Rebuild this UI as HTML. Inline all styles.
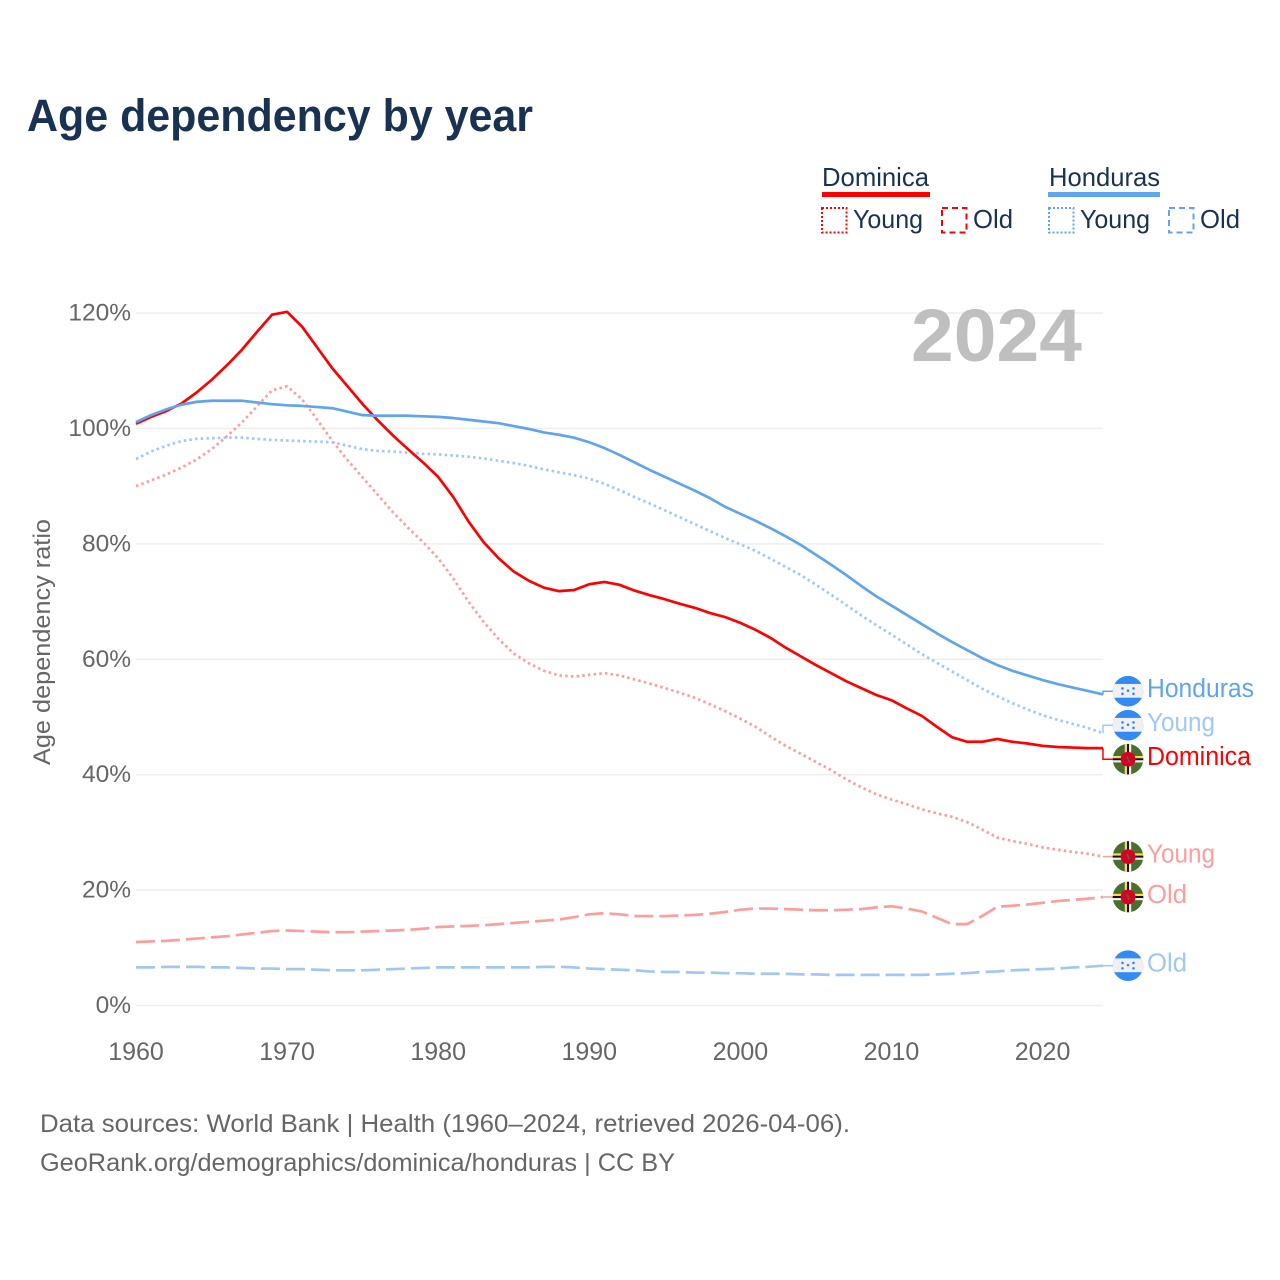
<!DOCTYPE html>
<html lang="en">
<head>
<meta charset="utf-8">
<title>Age dependency by year</title>
<style>
html,body{margin:0;padding:0;background:#fff;width:1280px;height:1280px;overflow:hidden}
svg{display:block}
text{font-family:"Liberation Sans",sans-serif}
</style>
</head>
<body>
<svg id="chart" xmlns="http://www.w3.org/2000/svg" width="1280" height="1280" viewBox="0 0 1280 1280">
  <defs>
    <clipPath id="flag-clip"><circle cx="0" cy="0" r="15.3"/></clipPath>
    <g id="flag-hn" clip-path="url(#flag-clip)">
      <rect x="-16" y="-16" width="32" height="32" fill="#338af3"/>
      <rect x="-16" y="-7.3" width="32" height="13.8" fill="#f0f0f0"/>
      <g fill="#338af3">
        <circle cx="-5.5" cy="-2.8" r="1.3"/><circle cx="5.5" cy="-2.8" r="1.3"/>
        <circle cx="0" cy="-0.5" r="1.3"/>
        <circle cx="-5.5" cy="2.6" r="1.3"/><circle cx="5.5" cy="2.6" r="1.3"/>
      </g>
    </g>
    <g id="flag-dm" clip-path="url(#flag-clip)">
      <rect x="-16" y="-16" width="32" height="32" fill="#496e2d"/>
      <rect x="-3.2" y="-16" width="6.4" height="32" fill="#f0f0f0"/>
      <rect x="-16" y="-3.2" width="32" height="6.4" fill="#f0f0f0"/>
      <rect x="-3" y="-16" width="2" height="32" fill="#ffda44"/>
      <rect x="-16" y="-3" width="32" height="2" fill="#ffda44"/>
      <rect x="-1" y="-16" width="2" height="32" fill="#111"/>
      <rect x="-16" y="-1" width="32" height="2" fill="#111"/>
      <circle r="7.4" fill="#d80027"/>
      <rect x="-0.8" y="-3" width="1.8" height="6" fill="#496e2d" transform="rotate(-20)"/>
    </g>
  </defs>

  <g id="grid"></g>

  <text x="911" y="361" font-size="74" font-weight="700" fill="#bfbfbf" textLength="171" lengthAdjust="spacingAndGlyphs">2024</text>

  <g id="y-ticks"></g>
  <g id="x-ticks"></g>
  <g id="series"></g>
  <g id="labels"></g>

  <text x="27" y="131" font-size="45" font-weight="700" fill="#1a3252" textLength="506" lengthAdjust="spacingAndGlyphs">Age dependency by year</text>

  <text transform="translate(50,765) rotate(-90)" font-size="24" fill="#666666" textLength="246" lengthAdjust="spacingAndGlyphs">Age dependency ratio</text>

  <g>
    <g>
      <text x="822" y="186" font-size="26" fill="#1a3252" textLength="107" lengthAdjust="spacingAndGlyphs">Dominica</text>
      <rect x="822" y="192" width="108" height="5" fill="#ff0000"/>
      <rect x="822" y="208" width="24.500" height="24.500" fill="none" stroke="#ff0000" stroke-width="2" stroke-dasharray="2 2"/>
      <text x="853" y="228" font-size="26" fill="#1a3252" textLength="70" lengthAdjust="spacingAndGlyphs">Young</text>
      <rect x="942" y="208" width="24.500" height="24.500" fill="none" stroke="#ff0000" stroke-width="2" stroke-dasharray="6 4"/>
      <text x="973" y="228" font-size="26" fill="#1a3252" textLength="40" lengthAdjust="spacingAndGlyphs">Old</text>
    </g>
    <g>
      <text x="1049" y="186" font-size="26" fill="#1a3252" textLength="111" lengthAdjust="spacingAndGlyphs">Honduras</text>
      <rect x="1048" y="192" width="112" height="5" fill="#5fa5ee"/>
      <rect x="1049" y="208" width="24.500" height="24.500" fill="none" stroke="#5fa5ee" stroke-width="2" stroke-dasharray="2 2"/>
      <text x="1080" y="228" font-size="26" fill="#1a3252" textLength="70" lengthAdjust="spacingAndGlyphs">Young</text>
      <rect x="1169" y="208" width="24.500" height="24.500" fill="none" stroke="#5fa5ee" stroke-width="2" stroke-dasharray="6 4"/>
      <text x="1200" y="228" font-size="26" fill="#1a3252" textLength="40" lengthAdjust="spacingAndGlyphs">Old</text>
    </g>
  </g>

  <text x="40" y="1132" font-size="25" fill="#666666" textLength="810" lengthAdjust="spacingAndGlyphs">Data sources: World Bank | Health (1960–2024, retrieved 2026-04-06).</text>
  <text x="40" y="1171" font-size="25" fill="#666666" textLength="635" lengthAdjust="spacingAndGlyphs">GeoRank.org/demographics/dominica/honduras | CC BY</text>
</svg>
<script>
const firstYear = 1960;
const lastYear = 2024;
const yTickValues = [0, 20, 40, 60, 80, 100, 120];
const xTickValues = [1960, 1970, 1980, 1990, 2000, 2010, 2020];

const dominicaTotal = [100.8,102,103,104.3,106.2,108.4,110.9,113.6,116.7,119.7,120.2,117.6,114,110.4,107.3,104.2,101.4,98.8,96.4,94.1,91.6,88.1,83.9,80.3,77.5,75.2,73.6,72.4,71.8,72,73,73.4,72.9,71.9,71.1,70.4,69.6,68.9,68,67.3,66.3,65.1,63.7,62,60.5,59,57.6,56.2,55,53.8,52.9,51.5,50.2,48.3,46.5,45.7,45.7,46.2,45.7,45.4,45,44.8,44.7,44.6,44.6];
const dominicaYoung = [90,91,92,93.2,94.6,96.4,98.6,101,103.8,106.6,107.3,105,101.5,97.8,94.5,91.5,88.5,85.5,82.8,80.3,77.5,74,70,66.5,63.5,61,59.3,58,57.2,57,57.3,57.6,57.2,56.5,55.8,55,54.2,53.3,52.2,51,49.7,48.3,46.6,45,43.6,42.2,40.8,39.2,37.8,36.6,35.7,34.9,34,33.3,32.7,31.8,30.5,29.1,28.5,28,27.4,27,26.6,26.3,25.8];
const dominicaOld = [11,11.1,11.2,11.4,11.6,11.8,12,12.3,12.6,12.9,13,12.9,12.8,12.7,12.7,12.8,12.9,13,13.1,13.3,13.6,13.7,13.8,13.9,14.1,14.3,14.5,14.7,14.9,15.3,15.8,16,15.8,15.5,15.5,15.5,15.6,15.7,15.9,16.2,16.6,16.8,16.8,16.7,16.6,16.5,16.5,16.6,16.7,17,17.2,16.8,16.3,15.2,14.1,14.1,15.5,17.1,17.3,17.5,17.8,18.1,18.3,18.5,18.8];
const hondurasTotal = [101.1,102.3,103.3,104.1,104.6,104.8,104.8,104.8,104.5,104.2,104,103.9,103.7,103.5,102.9,102.3,102.2,102.2,102.2,102.1,102,101.8,101.5,101.2,100.9,100.4,99.9,99.3,98.9,98.4,97.6,96.6,95.4,94.1,92.8,91.6,90.4,89.2,87.9,86.4,85.2,84,82.7,81.3,79.8,78.1,76.4,74.6,72.7,70.9,69.3,67.7,66.1,64.5,63,61.6,60.2,59,58,57.2,56.4,55.7,55.1,54.5,53.9];
const hondurasYoung = [94.7,96,97,97.8,98.2,98.3,98.4,98.4,98.2,98,97.9,97.8,97.7,97.6,97,96.4,96.1,96,95.8,95.6,95.5,95.3,95.1,94.8,94.4,94,93.5,92.9,92.4,91.9,91.3,90.4,89.3,88.1,87,85.8,84.6,83.4,82.2,81,79.9,78.8,77.4,76,74.6,72.9,71.2,69.4,67.6,65.9,64.3,62.6,60.9,59.4,57.9,56.4,54.9,53.6,52.4,51.3,50.3,49.5,48.8,48.1,47.2];
const hondurasOld = [6.6,6.6,6.7,6.7,6.7,6.6,6.6,6.5,6.4,6.4,6.3,6.3,6.2,6.1,6.1,6.1,6.2,6.3,6.4,6.5,6.6,6.6,6.6,6.6,6.6,6.6,6.6,6.7,6.7,6.6,6.4,6.3,6.2,6.1,5.9,5.8,5.8,5.7,5.7,5.6,5.6,5.5,5.5,5.5,5.4,5.4,5.3,5.3,5.3,5.3,5.3,5.3,5.3,5.4,5.5,5.6,5.8,5.9,6.1,6.2,6.3,6.4,6.6,6.7,6.9];

const seriesList = [
  {name:'dominica-young', label:'Young', values:dominicaYoung, color:'#ff9c9c', dash:'2.5 3.2', flag:'#flag-dm', width:68},
  {name:'dominica-old', label:'Old', values:dominicaOld, color:'#ff9c9c', dash:'19 6', flag:'#flag-dm', width:40},
  {name:'honduras-young', label:'Young', values:hondurasYoung, color:'#a0c8f3', dash:'2.5 3.2', flag:'#flag-hn', width:68},
  {name:'honduras-old', label:'Old', values:hondurasOld, color:'#a0c8f3', dash:'19 6', flag:'#flag-hn', width:40},
  {name:'dominica', label:'Dominica', values:dominicaTotal, color:'#ff0000', dash:'', flag:'#flag-dm', width:104},
  {name:'honduras', label:'Honduras', values:hondurasTotal, color:'#5fa5ee', dash:'', flag:'#flag-hn', width:107}
];

const NS = 'http://www.w3.org/2000/svg';
const plotLeft = 136, plotRight = 1103, plotBottom = 1005.5, plotTop = 313;
function xScale(year){ return plotLeft + (year - firstYear) * (plotRight - plotLeft) / (lastYear - firstYear); }
function yScale(v){ return plotBottom - v * (plotBottom - plotTop) / 120; }
function make(tag, attrs, parent){
  const el = document.createElementNS(NS, tag);
  for (const k in attrs) el.setAttribute(k, attrs[k]);
  parent.appendChild(el);
  return el;
}

const gridG = document.getElementById('grid');
const yG = document.getElementById('y-ticks');
const xG = document.getElementById('x-ticks');
const seriesG = document.getElementById('series');
const labelsG = document.getElementById('labels');

yTickValues.forEach(function(v){
  const line = make('line', {x1:plotLeft, x2:plotRight, y1:yScale(v), y2:yScale(v), stroke:'#eeeeee', 'stroke-width':1.5}, gridG);
  
  
  const t = make('text', {x:131, y:yScale(v) + 7.500, 'text-anchor':'end', 'font-size':24.500, fill:'#666666'}, yG);
  t.textContent = v + '%';
  
  
});

xTickValues.forEach(function(yr){
  const t = make('text', {x:xScale(yr), y:1060, 'text-anchor':'middle', 'font-size':25, fill:'#666666'}, xG);
  t.textContent = String(yr);
  
  
});

seriesList.forEach(function(s){
  const d = s.values.map(function(v, i){
    return (i ? 'L' : 'M') + xScale(firstYear + i).toFixed(2) + ' ' + yScale(v).toFixed(2);
  }).join(' ');
  const attrs = {d:d, fill:'none', stroke:s.color, 'stroke-width':2.700, 'stroke-linejoin':'round'};
  if (s.dash) attrs['stroke-dasharray'] = s.dash;
  const p = make('path', attrs, seriesG);
  
  
});

/* Dodge end labels: overlapping labels are grouped and centred on their mean. */
const minGap = 34;
const ends = seriesList.map(function(s){
  return {s:s, y:yScale(s.values[s.values.length - 1])};
}).sort(function(a, b){ return a.y - b.y; });
let clusters = ends.map(function(e){ return {items:[e], sum:e.y}; });
function clusterTop(c){ return c.sum / c.items.length - (c.items.length - 1) * minGap / 2; }
function clusterBottom(c){ return c.sum / c.items.length + (c.items.length - 1) * minGap / 2; }
for (let i = 0; i < clusters.length - 1; ) {
  if (clusterTop(clusters[i + 1]) - clusterBottom(clusters[i]) < minGap) {
    clusters[i].items = clusters[i].items.concat(clusters[i + 1].items);
    clusters[i].sum += clusters[i + 1].sum;
    clusters.splice(i + 1, 1);
    if (i > 0) i--;
  } else {
    i++;
  }
}
clusters.forEach(function(c){
  const top = clusterTop(c);
  c.items.forEach(function(e, i){ e.labelY = top + i * minGap; });
});

ends.forEach(function(e){
  const s = e.s;
  const conn = make('path', {d:'M' + plotRight + ' ' + e.y.toFixed(2) + ' V' + e.labelY.toFixed(2) + ' H1114', fill:'none', stroke:s.color, 'stroke-width':1.5}, labelsG);
  
  
  const flag = make('use', {href:s.flag, x:1128, y:e.labelY.toFixed(2)}, labelsG);
  
  
  const t = make('text', {x:1147, y:(e.labelY + 6).toFixed(2), 'font-size':25.500, fill:s.color, textLength:s.width, lengthAdjust:'spacingAndGlyphs'}, labelsG);
  t.textContent = s.label;
  
  
});
</script>
</body>
</html>
